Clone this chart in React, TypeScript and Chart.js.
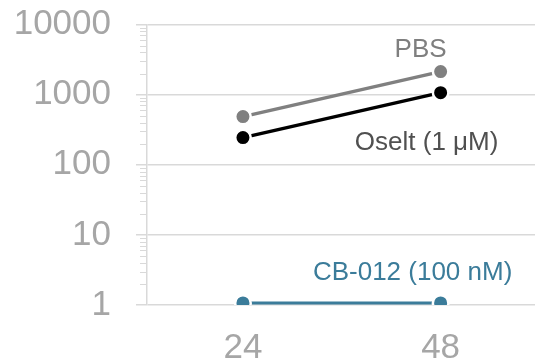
import React, { useEffect, useRef } from "react";
import { Chart, registerables } from "chart.js";

Chart.register(...registerables);

const HOURS = [24, 48];
const PBS = [486, 2130];
const OSELT = [244, 1067];
const CB012 = [1.07, 1.07];
const Y_TICKS = [1, 10, 100, 1000, 10000];
const MINOR_MULT = [2, 3, 4, 5, 6, 7, 8, 9];
const SERIES_NAMES = ["PBS", "Oselt (1 \u03bcM)", "CB-012 (100 nM)"];

const COL_PBS = "#808080";
const COL_OSELT = "#000000";
const COL_CB = "#3b7c9a";
const GRID = "#d9d9d9";
const TICK_TEXT = "#a6a6a6";
const FONT = "'Liberation Sans', Arial, sans-serif";

const minorTicksPlugin = {
  id: "minorTicks",
  beforeDatasetsDraw(chart: any) {
    const y = chart.scales.y;
    const ctx = chart.ctx;
    const left = chart.chartArea.left;
    ctx.save();
    ctx.strokeStyle = GRID;
    ctx.lineWidth = 1;
    for (let i = 0; i < Y_TICKS.length - 1; i++) {
      for (const m of MINOR_MULT) {
        const py = Math.round(y.getPixelForValue(Y_TICKS[i] * m)) + 0.5;
        ctx.beginPath();
        ctx.moveTo(left - 7, py);
        ctx.lineTo(left, py);
        ctx.stroke();
      }
    }
    ctx.restore();
  },
};

const labelPlugin = {
  id: "seriesLabels",
  afterDatasetsDraw(chart: any) {
    const x = chart.scales.x;
    const y = chart.scales.y;
    const ctx = chart.ctx;
    ctx.save();
    ctx.font = `26px ${FONT}`;
    ctx.textAlign = "center";
    ctx.textBaseline = "middle";
    const items = [
      { text: SERIES_NAMES[0], color: "#7f7f7f", v: PBS[1], dx: -20, dy: -22 },
      { text: SERIES_NAMES[1], color: "#505050", v: OSELT[1], dx: -14, dy: 50 },
      { text: SERIES_NAMES[2], color: COL_CB, v: CB012[1], dx: -28, dy: -30 },
    ];
    for (const it of items) {
      ctx.fillStyle = it.color;
      ctx.fillText(it.text, x.getPixelForValue(HOURS[1]) + it.dx, y.getPixelForValue(it.v) + it.dy);
    }
    ctx.restore();
  },
};

function ds(label: string, data: number[], color: string, width: number) {
  return {
    label,
    data: HOURS.map((h, i) => ({ x: h, y: data[i] })),
    borderColor: color,
    backgroundColor: color,
    borderWidth: width,
    pointRadius: 7.75,
    pointBorderWidth: 2.5,
    pointBorderColor: "#ffffff",
    pointBackgroundColor: color,
    pointHoverRadius: 7.75,
    tension: 0,
  };
}

export default function App() {
  const ref = useRef<HTMLCanvasElement | null>(null);
  useEffect(() => {
    if (!ref.current) return;
    const chart = new Chart(ref.current, {
      type: "line",
      data: {
        datasets: [
          ds(SERIES_NAMES[0], PBS, COL_PBS, 3.5),
          ds(SERIES_NAMES[1], OSELT, COL_OSELT, 3.5),
          ds(SERIES_NAMES[2], CB012, COL_CB, 3),
        ],
      },
      options: {
        animation: false,
        responsive: false,
        events: [],
        layout: { padding: { top: 24.5, right: 0, left: 0, bottom: 0 } },
        plugins: { legend: { display: false }, tooltip: { enabled: false } },
        scales: {
          x: {
            type: "linear",
            min: 12.35,
            max: 59.55,
            afterBuildTicks: (s: any) => {
              s.ticks = HOURS.map((v) => ({ value: v }));
            },
            afterFit: (s: any) => {
              s.height = 59;
              s.paddingLeft = 0;
              s.paddingRight = 0;
            },
            grid: { display: false, drawTicks: false },
            border: { display: false },
            ticks: {
              color: TICK_TEXT,
              font: { size: 35, family: FONT },
              padding: 22,
              maxRotation: 0,
              autoSkip: false,
              callback: (v: any) => String(v),
            },
          },
          y: {
            type: "logarithmic",
            min: 1,
            max: 10000,
            afterBuildTicks: (s: any) => {
              s.ticks = Y_TICKS.map((v) => ({ value: v, major: true }));
            },
            afterFit: (s: any) => {
              s.width = 147;
              s.paddingTop = 0;
              s.paddingBottom = 0;
            },
            grid: {
              color: GRID,
              lineWidth: 1.5,
              tickColor: GRID,
              tickLength: 11,
            },
            border: { display: true, color: GRID, width: 1.5 },
            ticks: {
              color: TICK_TEXT,
              font: { size: 35, family: FONT },
              padding: 25,
              autoSkip: false,
              callback: (v: any) => String(v),
            },
          },
        },
      },
      plugins: [minorTicksPlugin, labelPlugin],
    });
    return () => chart.destroy();
  }, []);
  return (
    <div style={{ position: "fixed", left: 0, top: 0, width: 535, height: 364, overflow: "hidden", background: "#fff" }}>
      <canvas ref={ref} width={546} height={364} style={{ width: 546, height: 364, display: "block" }} />
    </div>
  );
}
